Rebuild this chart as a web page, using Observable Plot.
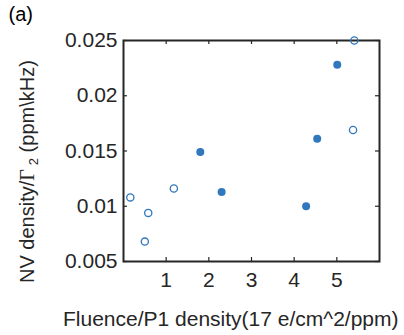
<!DOCTYPE html>
<html><head><meta charset="utf-8">
<script src="https://cdn.jsdelivr.net/npm/d3@7"></script>
<script src="https://cdn.jsdelivr.net/npm/@observablehq/plot@0.6"></script>
<style>
html,body{margin:0;padding:0;background:#fff;}
</style></head><body><div id="chart"></div>
<script>
// Data
const openX = [0.16, 0.50, 0.58, 1.18, 5.38, 5.41];
const openY = [0.0108, 0.0068, 0.0094, 0.0116, 0.0169, 0.0250];
const filledX = [1.80, 2.30, 4.28, 4.54, 5.01];
const filledY = [0.0149, 0.0113, 0.0100, 0.0161, 0.0228];
const xTicks = [1, 2, 3, 4, 5];
const yTicks = [0.005, 0.01, 0.015, 0.02, 0.025];
const yTickLabels = ["0.005", "0.01", "0.015", "0.02", "0.025"];
const xLabel = "Fluence/P1 density(17 e/cm^2/ppm)";
const yLabelA = "NV density/";
const yLabelGamma = "Γ";
const yLabelSub = "2";
const yLabelB = " (ppm\\kHz)";
const panelLabel = "(a)";

const openPts = openX.map((x, i) => ({x, y: openY[i]}));
const filledPts = filledX.map((x, i) => ({x, y: filledY[i]}));

const W = 404, H = 335, mL = 123, mR = 25, mT = 40, mB = 74;
const frameW = W - mL - mR, frameH = H - mT - mB;
const ink = "#262626", blue = "#3077BD";
const font = "'Liberation Sans', Arial, sans-serif";

const chart = Plot.plot({
  width: W, height: H,
  marginLeft: mL, marginRight: mR, marginTop: mT, marginBottom: mB,
  style: {fontFamily: font, fontSize: "21px", color: ink, background: "#fff"},
  x: {domain: [0, 6]},
  y: {domain: [0.005, 0.025]},
  marks: [
    Plot.axisX(xTicks, {anchor: "bottom", tickSize: 0, tickPadding: 11, label: null, fontSize: 21, fill: ink}),
    Plot.axisY(yTicks, {anchor: "left", tickSize: 0, tickPadding: 6, label: null, fontSize: 21, fill: ink,
      tickFormat: d => yTickLabels[yTicks.indexOf(d)]}),
    Plot.tickX(xTicks, {x: d => d, stroke: ink, strokeWidth: 1.2, insetTop: frameH - 4}),
    Plot.tickX(xTicks, {x: d => d, stroke: ink, strokeWidth: 1.2, insetBottom: frameH - 4}),
    Plot.tickY(yTicks, {y: d => d, stroke: ink, strokeWidth: 1.2, insetRight: frameW - 4}),
    Plot.tickY(yTicks, {y: d => d, stroke: ink, strokeWidth: 1.2, insetLeft: frameW - 4}),
    Plot.frame({stroke: ink, strokeWidth: 2}),
    Plot.dot(openPts, {x: "x", y: "y", r: 3.6, stroke: blue, strokeWidth: 1.3, fill: "none"}),
    Plot.dot(filledPts, {x: "x", y: "y", r: 4, fill: blue, stroke: "none"})
  ]
});

document.getElementById("chart").appendChild(chart);
const svg = d3.select(chart);

// y-axis label with Gamma and subscript
const yl = svg.append("text")
  .attr("transform", "translate(33.5,283) rotate(-90)")
  .attr("text-anchor", "start")
  .attr("font-family", font).attr("font-size", 20).attr("fill", ink);
yl.append("tspan").text(yLabelA);
yl.append("tspan").attr("font-family", "'Liberation Serif','DejaVu Serif',serif").text(yLabelGamma);
yl.append("tspan").attr("font-size", 13).attr("dx", 4).attr("dy", 4).text(yLabelSub);
yl.append("tspan").attr("dy", -4).text(yLabelB);

// x-axis title
svg.append("text").attr("x", 63).attr("y", 326)
  .attr("text-anchor", "start")
  .attr("font-family", font).attr("font-size", 21).attr("fill", ink)
  .text(xLabel);

// panel label
svg.append("text").attr("x", 8.5).attr("y", 21)
  .attr("text-anchor", "start")
  .attr("font-family", font).attr("font-size", 20).attr("fill", "#000")
  .text(panelLabel);
</script>
</body></html>
